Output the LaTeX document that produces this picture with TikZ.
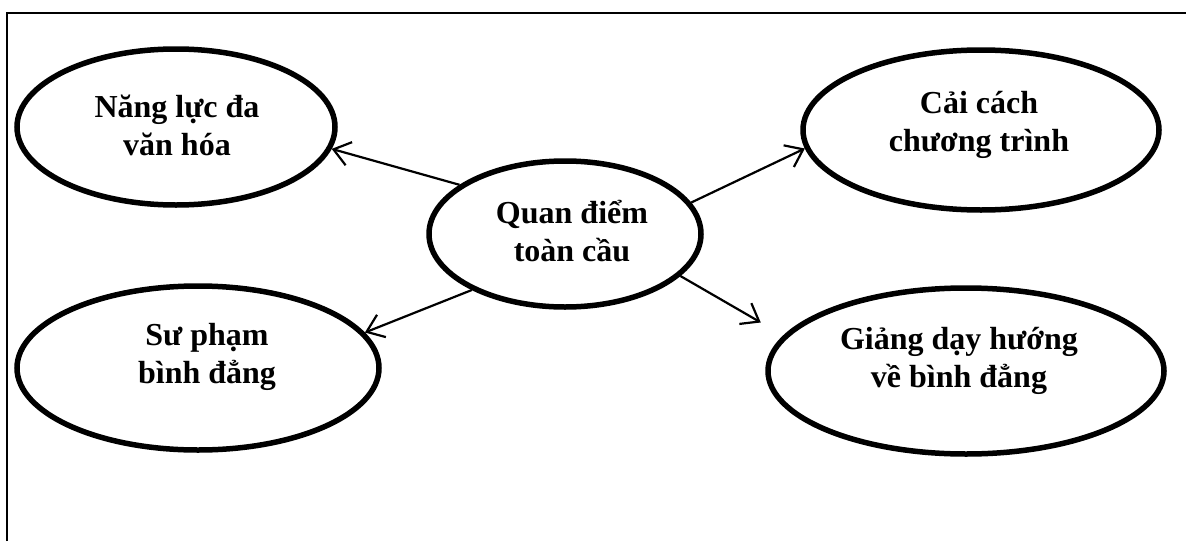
\documentclass[tikz,border=0pt]{standalone}
\usepackage{fontspec}
\setmainfont{Liberation Serif}
\usetikzlibrary{shapes.geometric,arrows.meta}
\begin{document}
\begin{tikzpicture}[x=1pt,y=-1pt,
  bubble/.style={ellipse, draw, line width=5.5pt, inner sep=0pt},
  lbl/.style={font=\fontsize{32}{38}\selectfont\bfseries, align=center, inner sep=0pt},
  link/.style={line width=2.2pt, -{Straight Barb[length=16pt,width=24pt,line width=2.2pt]}},
  frame/.style={line width=2.5pt}]
  \useasboundingbox (0,0) rectangle (1186,541);

  % open frame: left and top edges only
  \coordinate (fbl) at (7,541);
  \coordinate (ftl) at (7,13);
  \coordinate (ftr) at (1186,13);
  \draw[frame] (fbl) -- (ftl) -- (ftr);

  % ellipses
  \node[bubble, minimum width=318pt, minimum height=156pt] (e1) at (176,127) {};
  \node[bubble, minimum width=356pt, minimum height=160pt] (e2) at (981,130) {};
  \node[bubble, minimum width=272pt, minimum height=146pt] (c)  at (565,234) {};
  \node[bubble, minimum width=362pt, minimum height=164pt] (e4) at (198,368) {};
  \node[bubble, minimum width=396pt, minimum height=166pt] (e5) at (966,371) {};

  % labels
  \node[lbl] (t1) at (177,125) {Năng lực đa\\văn hóa};
  \node[lbl] (t2) at (979,125) {Cải cách\\chương trình};
  \node[lbl] (tc) at (572,231) {Quan điểm\\toàn cầu};
  \node[lbl] (t4) at (207,357) {Sư phạm\\bình đẳng};
  \node[lbl] (t5) at (959,361) {Giảng dạy hướng\\về bình đẳng};

  % connectors from the centre
  \draw[link] (c.155) -- (e1.-8);
  \draw[link] (c.14) -- (e2.186);
  \draw[link] (c.211) -- (e4.12);
  \draw[link, shorten >=26pt] (c.-20) -- (e5.169);
\end{tikzpicture}
\end{document}
